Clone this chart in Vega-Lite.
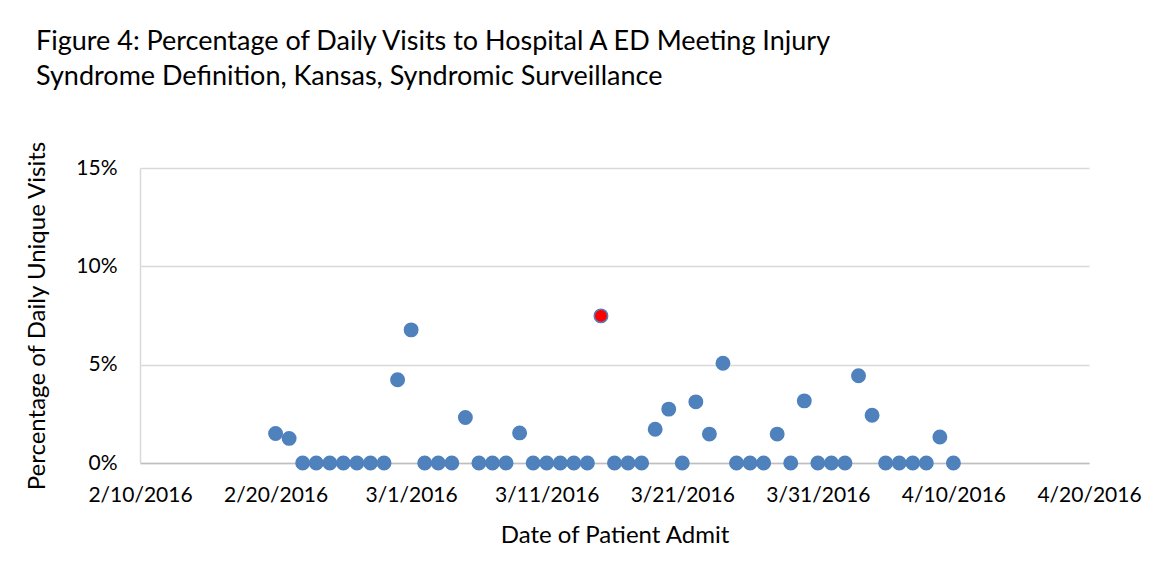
{
  "$schema": "https://vega.github.io/schema/vega-lite/v6.json",
  "width": 949,
  "height": 295,
  "autosize": {"type": "none"},
  "padding": {"left": 140, "top": 168, "right": 75, "bottom": 117},
  "background": "white",
  "title": {
    "text": ["Figure 4: Percentage of Daily Visits to Hospital A ED Meeting Injury", "Syndrome Definition, Kansas, Syndromic Surveillance"],
    "anchor": "start",
    "frame": "group",
    "dx": -104,
    "offset": 49,
    "font": "Lato",
    "fontSize": 27,
    "fontWeight": "normal",
    "color": "#000000",
    "lineHeight": 35
  },
  "config": {
    "view": {"stroke": null},
    "font": "Lato"
  },
  "data": {
    "values": [
      {"date": "2016-02-20", "pct": 0.0150, "status": "normal"},
      {"date": "2016-02-21", "pct": 0.0125, "status": "normal"},
      {"date": "2016-02-22", "pct": 0, "status": "normal"},
      {"date": "2016-02-23", "pct": 0, "status": "normal"},
      {"date": "2016-02-24", "pct": 0, "status": "normal"},
      {"date": "2016-02-25", "pct": 0, "status": "normal"},
      {"date": "2016-02-26", "pct": 0, "status": "normal"},
      {"date": "2016-02-27", "pct": 0, "status": "normal"},
      {"date": "2016-02-28", "pct": 0, "status": "normal"},
      {"date": "2016-02-29", "pct": 0.0423, "status": "normal"},
      {"date": "2016-03-01", "pct": 0.0677, "status": "normal"},
      {"date": "2016-03-02", "pct": 0, "status": "normal"},
      {"date": "2016-03-03", "pct": 0, "status": "normal"},
      {"date": "2016-03-04", "pct": 0, "status": "normal"},
      {"date": "2016-03-05", "pct": 0.0231, "status": "normal"},
      {"date": "2016-03-06", "pct": 0, "status": "normal"},
      {"date": "2016-03-07", "pct": 0, "status": "normal"},
      {"date": "2016-03-08", "pct": 0, "status": "normal"},
      {"date": "2016-03-09", "pct": 0.0153, "status": "normal"},
      {"date": "2016-03-10", "pct": 0, "status": "normal"},
      {"date": "2016-03-11", "pct": 0, "status": "normal"},
      {"date": "2016-03-12", "pct": 0, "status": "normal"},
      {"date": "2016-03-13", "pct": 0, "status": "normal"},
      {"date": "2016-03-14", "pct": 0, "status": "normal"},
      {"date": "2016-03-15", "pct": 0.0748, "status": "alert"},
      {"date": "2016-03-16", "pct": 0, "status": "normal"},
      {"date": "2016-03-17", "pct": 0, "status": "normal"},
      {"date": "2016-03-18", "pct": 0, "status": "normal"},
      {"date": "2016-03-19", "pct": 0.0172, "status": "normal"},
      {"date": "2016-03-20", "pct": 0.0274, "status": "normal"},
      {"date": "2016-03-21", "pct": 0, "status": "normal"},
      {"date": "2016-03-22", "pct": 0.0311, "status": "normal"},
      {"date": "2016-03-23", "pct": 0.0147, "status": "normal"},
      {"date": "2016-03-24", "pct": 0.0507, "status": "normal"},
      {"date": "2016-03-25", "pct": 0, "status": "normal"},
      {"date": "2016-03-26", "pct": 0, "status": "normal"},
      {"date": "2016-03-27", "pct": 0, "status": "normal"},
      {"date": "2016-03-28", "pct": 0.0147, "status": "normal"},
      {"date": "2016-03-29", "pct": 0, "status": "normal"},
      {"date": "2016-03-30", "pct": 0.0316, "status": "normal"},
      {"date": "2016-03-31", "pct": 0, "status": "normal"},
      {"date": "2016-04-01", "pct": 0, "status": "normal"},
      {"date": "2016-04-02", "pct": 0, "status": "normal"},
      {"date": "2016-04-03", "pct": 0.0444, "status": "normal"},
      {"date": "2016-04-04", "pct": 0.0243, "status": "normal"},
      {"date": "2016-04-05", "pct": 0, "status": "normal"},
      {"date": "2016-04-06", "pct": 0, "status": "normal"},
      {"date": "2016-04-07", "pct": 0, "status": "normal"},
      {"date": "2016-04-08", "pct": 0, "status": "normal"},
      {"date": "2016-04-09", "pct": 0.0132, "status": "normal"},
      {"date": "2016-04-10", "pct": 0, "status": "normal"}
    ]
  },
  "mark": {"type": "point", "filled": true, "size": 180, "opacity": 1, "stroke": "#4F81BD", "strokeWidth": 1.5, "clip": false},
  "encoding": {
    "x": {
      "field": "date",
      "type": "temporal",
      "scale": {
        "type": "utc",
        "domain": [
          {"year": 2016, "month": 2, "date": 10, "utc": true},
          {"year": 2016, "month": 4, "date": 20, "utc": true}
        ]
      },
      "axis": {
        "title": "Date of Patient Admit",
        "values": [
          {"year": 2016, "month": 2, "date": 10, "utc": true},
          {"year": 2016, "month": 2, "date": 20, "utc": true},
          {"year": 2016, "month": 3, "date": 1, "utc": true},
          {"year": 2016, "month": 3, "date": 11, "utc": true},
          {"year": 2016, "month": 3, "date": 21, "utc": true},
          {"year": 2016, "month": 3, "date": 31, "utc": true},
          {"year": 2016, "month": 4, "date": 10, "utc": true},
          {"year": 2016, "month": 4, "date": 20, "utc": true}
        ],
        "format": "%-m/%-d/%Y",
        "grid": false,
        "ticks": false,
        "domainColor": "#BFBFBF",
        "domainWidth": 1.5,
        "labelFont": "Lato",
        "labelFontSize": 21,
        "labelColor": "#000000",
        "labelPadding": 21,
        "labelOverlap": false,
        "labelFlush": false,
        "titleFont": "Lato",
        "titleFontSize": 24,
        "titleFontWeight": "normal",
        "titleColor": "#000000",
        "titlePadding": 18
      }
    },
    "y": {
      "field": "pct",
      "type": "quantitative",
      "scale": {"domain": [0, 0.15], "nice": false, "zero": true},
      "axis": {
        "title": "Percentage of Daily Unique Visits",
        "values": [0, 0.05, 0.10, 0.15],
        "format": ".0%",
        "grid": true,
        "gridColor": "#D9D9D9",
        "gridWidth": 1.5,
        "ticks": false,
        "domainColor": "#D9D9D9",
        "domainWidth": 1.5,
        "labelFont": "Lato",
        "labelFontSize": 21,
        "labelColor": "#000000",
        "labelPadding": 23,
        "titleFont": "Lato",
        "titleFontSize": 24,
        "titleFontWeight": "normal",
        "titleColor": "#000000",
        "titlePadding": 26
      }
    },
    "color": {
      "field": "status",
      "type": "nominal",
      "scale": {"domain": ["normal", "alert"], "range": ["#4F81BD", "#FF0000"]},
      "legend": null
    }
  }
}
